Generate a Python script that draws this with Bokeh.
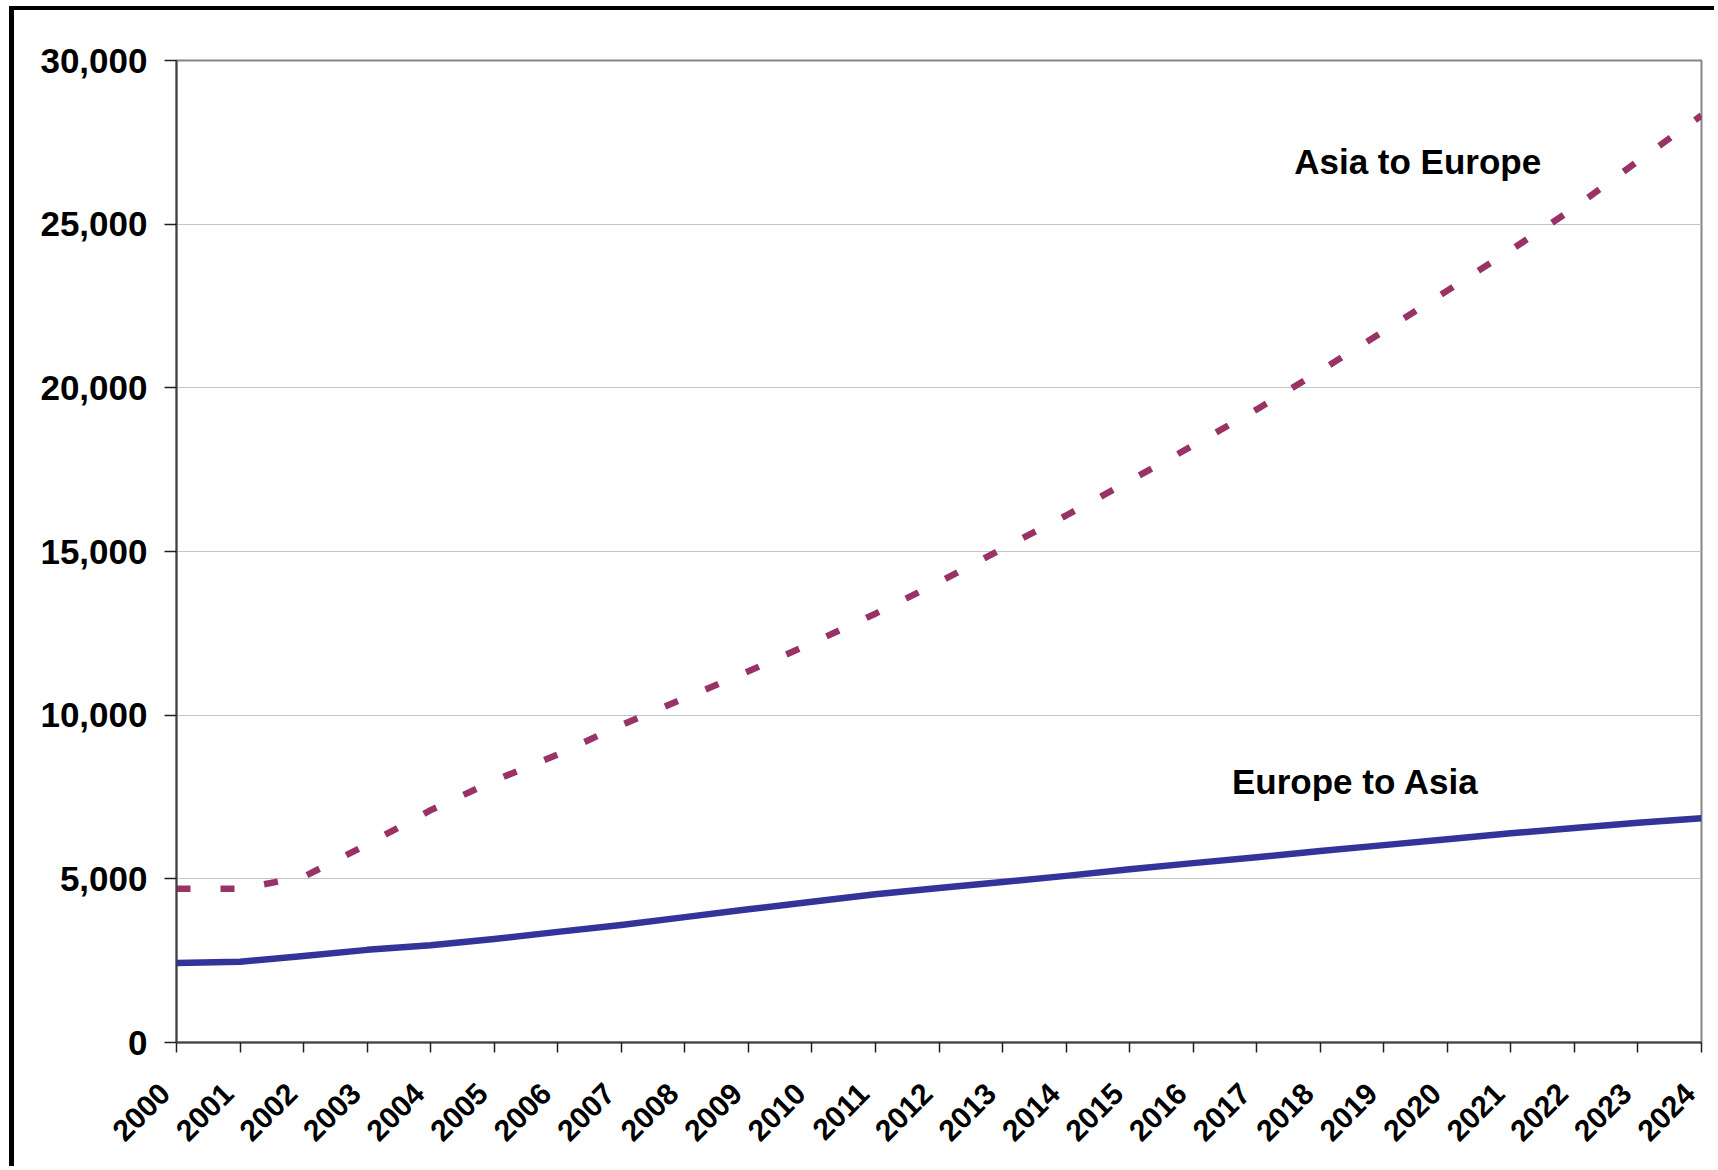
import math

from bokeh.embed import file_html
from bokeh.models import CustomJSTickFormatter, FixedTicker, Label, NumeralTickFormatter, Range1d
from bokeh.plotting import figure
from bokeh.resources import INLINE

# Annual values, 2000-2024
years = list(range(2000, 2025))
europe_to_asia = [2430, 2470, 2640, 2830, 2970, 3160, 3380, 3590, 3830, 4070,
                  4300, 4530, 4720, 4900, 5090, 5290, 5480, 5660, 5850, 6030,
                  6210, 6390, 6550, 6710, 6850]
asia_to_europe = [4700, 4700, 5060, 6050, 7100, 8000, 8800, 9700, 10520, 11340,
                  12200, 13100, 14060, 15090, 16100, 17160, 18240, 19340, 20520, 21730,
                  22970, 24210, 25500, 26930, 28320]
y_ticks = [0, 5000, 10000, 15000, 20000, 25000, 30000]

FONT = "Liberation Sans"

p = figure(
    width=1705, height=1160,
    output_backend="svg", toolbar_location=None,
    x_range=Range1d(2000, 2024), y_range=Range1d(0, 30000),
    min_border_left=162, min_border_right=18,
    min_border_top=50, min_border_bottom=128,
    background_fill_color="white", border_fill_color="white",
)
# black frame around the whole chart (left and top edges)
p.styles = {
    "margin-left": "9px", "margin-top": "6px",
    "border-left": "5px solid #000000", "border-top": "4px solid #000000",
}

p.outline_line_color = "#868686"
p.outline_line_width = 2

p.xgrid.visible = False
p.ygrid.grid_line_color = "#c4c4c4"
p.ygrid.grid_line_width = 1

# x axis: every year, slanted labels ending just left of their tick
p.xaxis.ticker = FixedTicker(ticks=years)
p.xaxis.formatter = CustomJSTickFormatter(code="return tick.toFixed(0) + '\\u2007';")
p.xaxis.major_label_orientation = math.pi / 4
p.xaxis.major_label_text_font = FONT
p.xaxis.major_label_text_font_style = "bold"
p.xaxis.major_label_text_font_size = "30px"
p.xaxis.major_label_text_color = "black"
p.xaxis.major_tick_out = 10
p.xaxis.major_tick_in = 0
p.xaxis.minor_tick_line_color = None
p.xaxis.axis_line_color = "#404040"
p.xaxis.axis_line_width = 2
p.xaxis.major_tick_line_color = "#202020"
p.xaxis.major_tick_line_width = 1.5
p.xaxis.major_label_standoff = 24

# y axis
p.yaxis.ticker = FixedTicker(ticks=y_ticks)
p.yaxis.formatter = NumeralTickFormatter(format="0,0")
p.yaxis.major_label_text_font = FONT
p.yaxis.major_label_text_font_style = "bold"
p.yaxis.major_label_text_font_size = "35px"
p.yaxis.major_label_text_color = "black"
p.yaxis.major_tick_out = 12
p.yaxis.major_tick_in = 0
p.yaxis.minor_tick_line_color = None
p.yaxis.axis_line_color = "#404040"
p.yaxis.axis_line_width = 2
p.yaxis.major_tick_line_color = "#202020"
p.yaxis.major_tick_line_width = 1.5
p.yaxis.major_label_standoff = 17

# series
p.line(years, asia_to_europe, line_color="#993366", line_width=6.5,
       line_dash="14 30", line_cap="butt")
p.line(years, europe_to_asia, line_color="#333399", line_width=6.5,
       line_join="round")

# direct labels for the two series
for x, y, txt in [(2017.59, 26905, "Asia to Europe"), (2016.61, 7960, "Europe to Asia")]:
    p.add_layout(Label(x=x, y=y, text=txt, text_font=FONT, text_font_style="bold",
                       text_font_size="35px", text_color="black",
                       text_baseline="alphabetic", text_align="left"))

open("out.html", "w").write(file_html(p, INLINE))
